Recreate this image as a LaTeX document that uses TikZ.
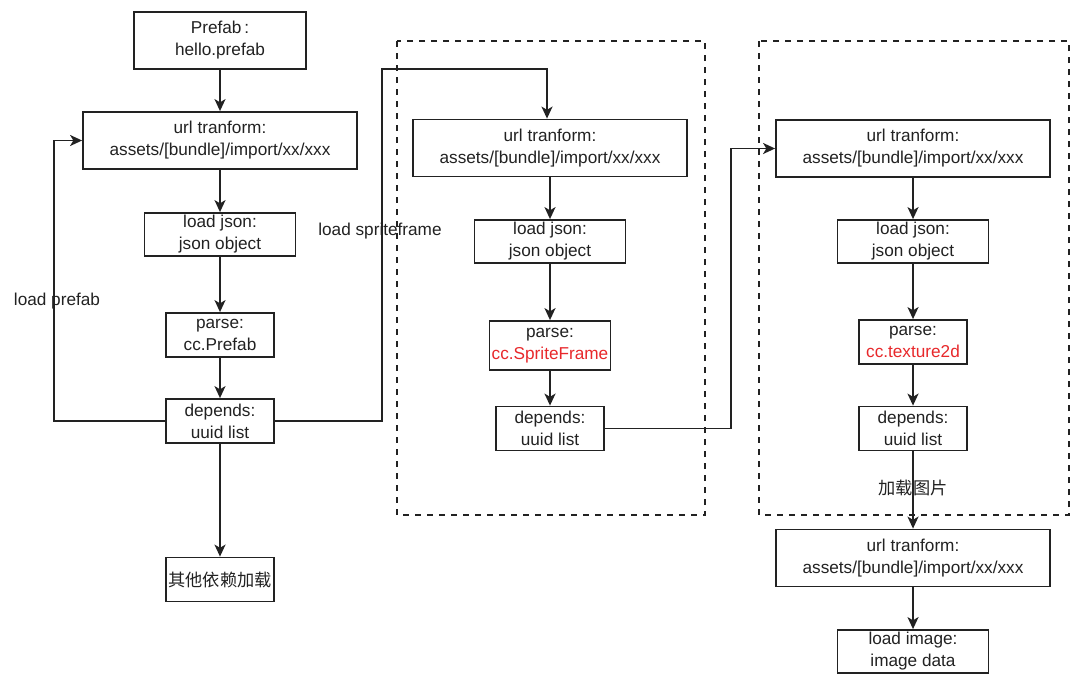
\documentclass[tikz,border=0pt]{standalone}
\usepackage{fontspec}
\setmainfont{Liberation Sans}
\newfontfamily\cjk{Noto Sans CJK SC}
\usetikzlibrary{positioning,calc,arrows.meta}
\definecolor{ink}{HTML}{222222}
\definecolor{hilite}{HTML}{E8282B}

\begin{document}
\begin{tikzpicture}[
    x=0.5pt, y=-0.5pt,
    every node/.style = {font=\fontsize{8.6}{11}\selectfont, align=center,
                         inner sep=0pt, text=ink},
    box/.style        = {draw=ink, line width=0.9pt, fill=white},
    wide/.style       = {box, minimum width=137pt, minimum height=28.5pt},
    mid/.style        = {box, minimum width=75.5pt, minimum height=21.5pt},
    small/.style      = {box, minimum width=54pt, minimum height=22pt},
    arrow/.style      = {-{Stealth[length=6pt,width=5.5pt,inset=1.6pt]},
                         draw=ink, line width=0.9pt},
    group/.style      = {draw=ink, line width=0.7pt, dashed},
    lbl/.style        = {font=\fontsize{8.6}{11}\selectfont},
  ]
  \useasboundingbox (0,0) rectangle (1080,686);

  %% dashed groups (drawn first, under the boxes)
  \draw[group] (397,41) rectangle (705,515);
  \draw[group] (759,41) rectangle (1069,515);

  %% Column 1: prefab (x = 220)
  \node[box, minimum width=86pt, minimum height=28.5pt] (prefab) at (220,40.5)
    {Prefab\,:\\hello.prefab};
  \node[wide]  (url1)   at (220,140.5) {url tranform:\\assets/[bundle]/import/xx/xxx};
  \node[mid]   (json1)  at (220,234.5) {load json:\\json object};
  \node[small] (parse1) at (220,335) {parse:\\cc.Prefab};
  \node[small] (dep1)   at (220,421) {depends:\\uuid list};
  \node[small] (other)  at (220,579.5) {\cjk 其他依赖加载};

  %% Column 2: spriteframe (x = 550)
  \node[wide]  (url2)   at (550,148) {url tranform:\\assets/[bundle]/import/xx/xxx};
  \node[mid]   (json2)  at (550,241.5) {load json:\\json object};
  \node[box, minimum width=60.5pt, minimum height=24.5pt] (parse2) at (550,345.5)
    {parse:\\\textcolor{hilite}{cc.SpriteFrame}};
  \node[small] (dep2)   at (550,428.5) {depends:\\uuid list};

  %% Column 3: texture (x = 913)
  \node[wide]  (url3)   at (913,148.5) {url tranform:\\assets/[bundle]/import/xx/xxx};
  \node[mid]   (json3)  at (913,241.5) {load json:\\json object};
  \node[small] (parse3) at (913,342) {parse:\\\textcolor{hilite}{cc.texture2d}};
  \node[small] (dep3)   at (913,428.5) {depends:\\uuid list};
  \node[wide]  (url4)   at (913,558) {url tranform:\\assets/[bundle]/import/xx/xxx};
  \node[mid]   (img)    at (913,651.5) {load image:\\image data};

  %% straight drops
  \draw[arrow] (prefab) -- (url1);
  \draw[arrow] (url1)   -- (json1);
  \draw[arrow] (json1)  -- (parse1);
  \draw[arrow] (parse1) -- (dep1);
  \draw[arrow] (dep1)   -- (other);
  \draw[arrow] (url2)   -- (json2);
  \draw[arrow] (json2)  -- (parse2);
  \draw[arrow] (parse2) -- (dep2);
  \draw[arrow] (url3)   -- (json3);
  \draw[arrow] (json3)  -- (parse3);
  \draw[arrow] (parse3) -- (dep3);
  \draw[arrow] (dep3)   -- (url4);
  \draw[arrow] (url4)   -- (img);

  %% loops and hand-overs between columns
  \draw[arrow] (dep1.west) -- ++(-111,0) |- (url1.west);
  \draw[arrow] (dep1.east) -| (382,69) -| ([xshift=-1.5pt]url2.north);
  \draw[arrow] (dep2.east) -- ++(126,0) |- (url3.west);

  %% labels (lines run through them)
  \node[lbl] (lprefab) at (57,301)  {load prefab};
  \node[lbl] (lsprite) at (380,231) {load spriteframe};
  \node[lbl] (limage)  at (913,488) {\cjk 加载图片};

\end{tikzpicture}
\end{document}
